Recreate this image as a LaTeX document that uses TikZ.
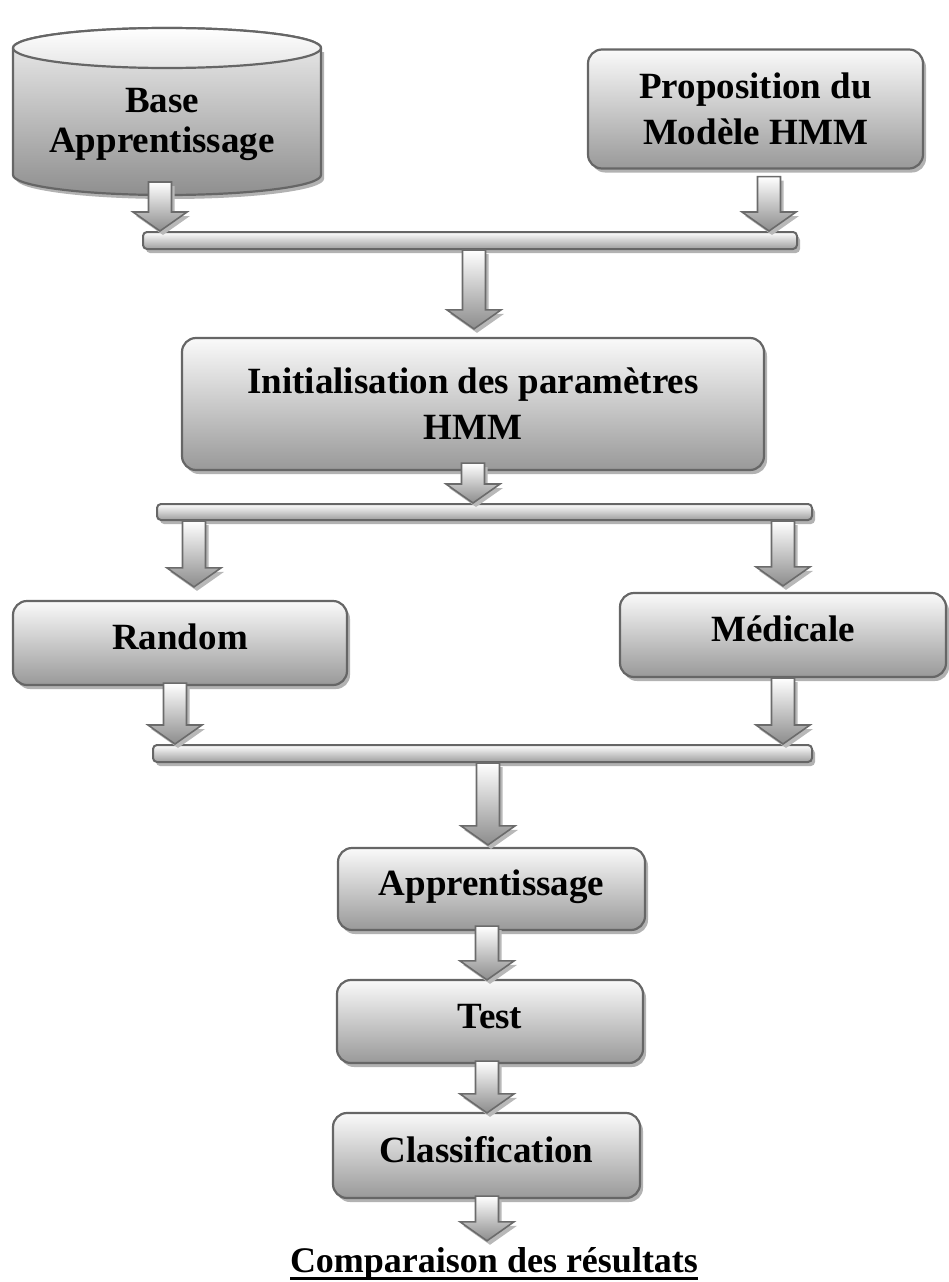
\documentclass[tikz,border=0pt]{standalone}
\usepackage{fontspec}
\setmainfont{Liberation Serif}
\usetikzlibrary{calc,shadows}

% thick rule under a piece of text
\newcommand\underrule[1]{\setbox0=\hbox{#1}\rlap{\rule[-7.5pt]{\wd0}{2.5pt}}\box0}

% hollow block arrow: #1 = x position, #2 = top of the shaft, #3 = tip
\newcommand\flowarrow[3]{%
  \fill[arrowshadow] let \p1=#2, \p2=#3 in
    (#1-11.5pt+3pt,\y1-4pt) -- (#1+11.5pt+3pt,\y1-4pt) -- (#1+11.5pt+3pt,\y2+19pt-4pt)
    -- (#1+27pt+3pt,\y2+19pt-4pt) -- (#1+3pt,\y2-4pt) -- (#1-27pt+3pt,\y2+19pt-4pt)
    -- (#1-11.5pt+3pt,\y2+19pt-4pt) -- cycle;
  \path[arrowbody] let \p1=#2, \p2=#3 in
    (#1-11.5pt,\y1) -- (#1+11.5pt,\y1) -- (#1+11.5pt,\y2+19pt)
    -- (#1+27pt,\y2+19pt) -- (#1,\y2) -- (#1-27pt,\y2+19pt)
    -- (#1-11.5pt,\y2+19pt) -- cycle;
}

\begin{document}
\begin{tikzpicture}[x=1pt,y=-1pt,
  boxshadow/.style={drop shadow={shadow xshift=3pt,shadow yshift=-4pt,fill=black!30,opacity=1}},
  stepbox/.style={draw=black!60, line width=2.2pt, rounded corners=14pt,
    top color=black!2, bottom color=black!40, boxshadow, align=center, inner sep=0pt,
    font=\bfseries\fontsize{37pt}{42pt}\selectfont},
  oneline/.style={text height=25pt, text depth=12pt},
  joinbar/.style={draw=black!60, line width=2pt, rounded corners=4pt,
    top color=white, bottom color=black!38, boxshadow, inner sep=0pt},
  arrowbody/.style={draw=black!58, line width=1.6pt, line join=miter, top color=white, bottom color=black!45},
  arrowshadow/.style={fill=black!28},
  plain/.style={align=center, inner sep=0pt, font=\bfseries\fontsize{37pt}{40pt}\selectfont},
]
\useasboundingbox (0,0) rectangle (948,1282);

% training database drawn as a cylinder
\begin{scope}[shift={(3pt,-4pt)}]
  \fill[black!30] (13,48) -- (13,175) arc[start angle=180,end angle=360,x radius=154pt,y radius=20pt] -- (321,48) -- cycle;
\end{scope}
\path[draw=black!60, line width=2.2pt, top color=black!6, bottom color=black!44]
  (13,48) -- (13,175) arc[start angle=180,end angle=360,x radius=154pt,y radius=20pt]
  -- (321,48) arc[start angle=0,end angle=180,x radius=154pt,y radius=20pt] -- cycle;
\path[draw=black!60, line width=2.2pt, top color=white, bottom color=black!10]
  (167,48) ellipse[x radius=154pt, y radius=20pt];
\coordinate (cylbot) at (167,195);
\node[plain] (cyl) at (162,124) {Base\\Apprentissage};

% process boxes
\node[stepbox, minimum width=335pt, minimum height=119pt,
      font=\bfseries\fontsize{37pt}{46pt}\selectfont] (prop) at (755.5,109) {Proposition du\\Modèle HMM};
\node[stepbox, minimum width=582pt, minimum height=132pt,
      font=\bfseries\fontsize{37pt}{46pt}\selectfont] (init) at (473,404) {Initialisation des paramètres\\HMM};
\node[stepbox, oneline, minimum width=334pt, minimum height=84pt] (random) at (180,643) {Random};
\node[stepbox, oneline, minimum width=326pt, minimum height=84pt] (medic) at (783,635) {Médicale};
\node[stepbox, oneline, minimum width=307pt, minimum height=82pt] (appr) at (491.5,889) {Apprentissage};
\node[stepbox, oneline, minimum width=306pt, minimum height=83pt] (test) at (490,1021.5) {Test};
\node[stepbox, oneline, minimum width=307pt, minimum height=85pt] (classif) at (486.5,1155.5) {Classification};

% joining bars
\node[joinbar, minimum width=654pt, minimum height=17pt] (bar1) at (470,240.5) {};
\node[joinbar, minimum width=655pt, minimum height=16pt] (bar2) at (484.5,512) {};
\node[joinbar, minimum width=659pt, minimum height=17pt] (bar3) at (482.5,753.5) {};

% final result
\node[font=\bfseries\fontsize{36pt}{40pt}\selectfont, anchor=base, inner sep=0pt] (res) at (494,1272)
  {\underrule{Comparaison des résultats}};

% flow arrows
\flowarrow{160pt}{($(cylbot)+(0,-13)$)}{(bar1.north)}
\flowarrow{769pt}{($(prop.south)+(0,7)$)}{(bar1.north)}
\flowarrow{474pt}{(bar1.south)}{($(init.north)+(0,-8)$)}
\flowarrow{473pt}{($(init.south)+(0,-8)$)}{(bar2.north)}
\flowarrow{194pt}{(bar2.south)}{($(random.north)+(0,-13)$)}
\flowarrow{783pt}{(bar2.south)}{($(medic.north)+(0,-6)$)}
\flowarrow{175pt}{($(random.south)+(0,-3)$)}{(bar3.north)}
\flowarrow{783pt}{(medic.south)}{(bar3.north)}
\flowarrow{488pt}{(bar3.south)}{($(appr.north)+(0,-2)$)}
\flowarrow{487pt}{($(appr.south)+(0,-5)$)}{($(test.north)+(0,1)$)}
\flowarrow{487pt}{($(test.south)+(0,-3)$)}{($(classif.north)+(0,1)$)}
\flowarrow{487pt}{($(classif.south)+(0,-3)$)}{($(res.north)+(0,-6)$)}
\end{tikzpicture}
\end{document}
